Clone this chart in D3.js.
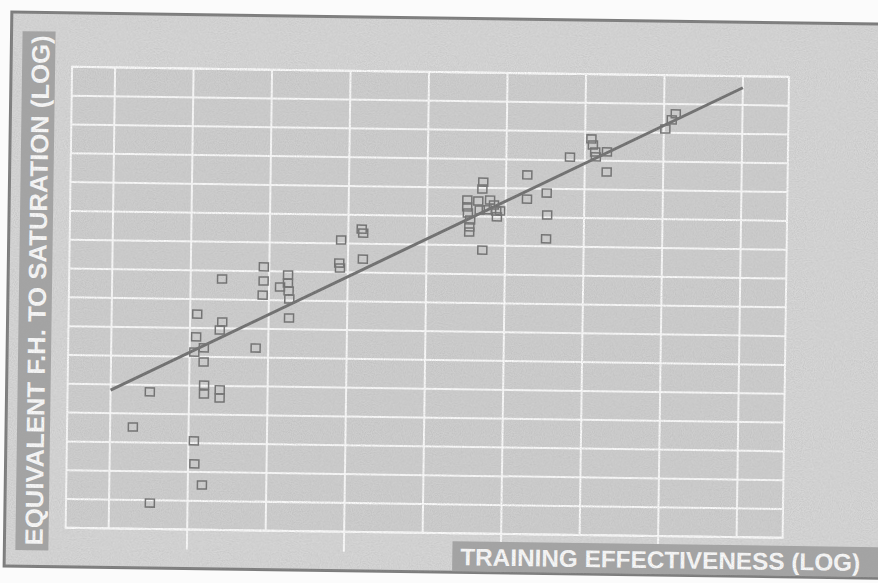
<!DOCTYPE html>
<html>
<head>
<meta charset="utf-8">
<script src="https://cdn.jsdelivr.net/npm/d3@7"></script>
<style>
  html, body { margin: 0; padding: 0; background: #fbfbfb; }
</style>
</head>
<body>
<div id="canvas"></div>
<script>
"use strict";

/* Data (x in grid columns, y in grid rows) */
let pointX = [
  0.50, 0.29, 0.52, 1.07, 1.08, 1.18, 1.09, 1.08, 1.06, 1.18, 1.18, 1.19, 1.19,
  1.39, 1.39, 1.40, 1.41, 1.38, 1.84, 1.93, 1.93, 1.92, 2.14, 2.24, 2.24, 2.25,
  2.26, 2.26, 2.91, 2.89, 2.90, 3.17, 3.19, 3.19,
  4.71, 4.70, 4.51, 4.51, 4.52, 4.55, 4.54, 4.54, 4.65, 4.67, 4.80, 4.85, 4.88,
  4.89, 4.93, 4.76, 4.71,
  5.27, 5.27, 5.52, 5.53, 5.52, 5.81, 6.08, 6.10, 6.13, 6.14, 6.28, 6.28,
  7.15, 7.10, 7.02
];
let pointY = [
  4.76, 3.53, 0.90, 3.08, 2.28, 1.55, 7.48, 6.69, 6.16, 6.31, 5.82, 5.02, 4.71,
  4.86, 4.58, 8.71, 7.22, 6.94, 6.33, 9.15, 8.66, 8.17, 8.46, 8.88, 8.60, 8.33,
  8.05, 7.39, 10.12, 9.32, 9.15, 10.51, 10.37, 9.47,
  12.20, 11.96, 11.57, 11.33, 11.12, 10.88, 10.64, 10.46, 11.54, 11.23, 11.58, 11.41, 11.20,
  11.00, 11.21, 11.24, 9.84,
  12.47, 11.63, 11.85, 11.09, 10.26, 13.11, 13.75, 13.54, 13.30, 13.13, 13.31, 12.61,
  14.66, 14.45, 14.13
];

/* Fitted line */
let fitX = [0, 8];
let fitY = [4.8, 15.6];

/* Grid ticks */
let xTicks = [0, 1, 2, 3, 4, 5, 6, 7, 8];
let yTicks = [0, 1, 2, 3, 4, 5, 6, 7, 8, 9, 10, 11, 12, 13, 14, 15, 16];

let xLabel = "TRAINING EFFECTIVENESS (LOG)";
let yLabel = "EQUIVALENT F.H. TO SATURATION (LOG)";

/* SVG setup */
let svgWidth = 878;
let svgHeight = 583;

let svg = d3.select("#canvas")
  .append("svg")
  .attr("width", svgWidth)
  .attr("height", svgHeight)
  .style("display", "block");

/* grain filter to mimic the printed halftone */
let defs = svg.append("defs");
let grain = defs.append("filter").attr("id", "grain")
  .attr("x", 0).attr("y", 0).attr("width", "100%").attr("height", "100%");
grain.append("feTurbulence")
  .attr("type", "fractalNoise")
  .attr("baseFrequency", 0.9)
  .attr("numOctaves", 2)
  .attr("seed", 3);
grain.append("feColorMatrix")
  .attr("type", "matrix")
  .attr("values", "0 0 0 0 0.35  0 0 0 0 0.35  0 0 0 0 0.35  0 0 0 -1.1 0.75");

/* the scan is tilted a little, so everything sits in a rotated group */
let page = svg.append("g")
  .attr("transform", "rotate(0.8, 439, 291)");

/* Scales */
let gridLeft = 69, gridRight = 786, gridTop = 72, gridBottom = 533;
let xScale = d3.scaleLinear().domain([-0.548, 8.586]).range([gridLeft, gridRight]);
let yScale = d3.scaleLinear().domain([0, 16]).range([gridBottom, gridTop]);

/* Panel */
page.append("rect")
  .attr("x", 8)
  .attr("y", 18)
  .attr("width", 900)
  .attr("height", 554)
  .attr("fill", "#d6d6d6")
  .attr("stroke", "#7c7c7c")
  .attr("stroke-width", 3);

/* Plot area */
page.append("rect")
  .attr("x", gridLeft)
  .attr("y", gridTop)
  .attr("width", gridRight - gridLeft)
  .attr("height", gridBottom - gridTop)
  .attr("fill", "#cecece");

/* Horizontal grid lines */
page.selectAll(".hgrid")
  .data(yTicks)
  .enter()
  .append("line")
  .attr("class", "hgrid")
  .attr("x1", gridLeft)
  .attr("x2", gridRight)
  .attr("y1", d => yScale(d))
  .attr("y2", d => yScale(d))
  .attr("stroke", "#fbfbfb")
  .attr("stroke-width", 2);

/* Vertical grid lines (odd ones run a bit below the plot) */
page.selectAll(".vgrid")
  .data(xTicks)
  .enter()
  .append("line")
  .attr("class", "vgrid")
  .attr("x1", d => xScale(d))
  .attr("x2", d => xScale(d))
  .attr("y1", gridTop)
  .attr("y2", d => d % 2 === 1 ? gridBottom + 20 : gridBottom)
  .attr("stroke", "#fbfbfb")
  .attr("stroke-width", 2);

/* Plot edges */
page.append("rect")
  .attr("x", gridLeft)
  .attr("y", gridTop)
  .attr("width", gridRight - gridLeft)
  .attr("height", gridBottom - gridTop)
  .attr("fill", "none")
  .attr("stroke", "#fbfbfb")
  .attr("stroke-width", 2);

/* Fitted line */
let fitData = fitX.map((v, i) => [v, fitY[i]]);
page.append("path")
  .datum(fitData)
  .attr("d", d3.line().x(d => xScale(d[0])).y(d => yScale(d[1])))
  .attr("fill", "none")
  .attr("stroke", "#6e6e6e")
  .attr("stroke-width", 3);

/* Points: small open squares */
let pts = pointX.map((v, i) => ({ x: v, y: pointY[i] }));
page.selectAll(".pt")
  .data(pts)
  .enter()
  .append("rect")
  .attr("class", "pt")
  .attr("x", d => xScale(d.x) - 4.5)
  .attr("y", d => yScale(d.y) - 4)
  .attr("width", 9)
  .attr("height", 8)
  .attr("fill", "none")
  .attr("stroke", "#707070")
  .attr("stroke-width", 1.5);

/* Y label band */
page.append("rect")
  .attr("x", 19)
  .attr("y", 37)
  .attr("width", 33)
  .attr("height", 519)
  .attr("fill", "#a4a4a4");

page.append("text")
  .attr("transform", "translate(46, 296) rotate(-90)")
  .attr("text-anchor", "middle")
  .attr("textLength", 510)
  .attr("lengthAdjust", "spacingAndGlyphs")
  .style("font-family", "'Liberation Sans', Arial, sans-serif")
  .style("font-weight", "bold")
  .style("font-size", "25px")
  .attr("fill", "#fbfbfb")
  .text(yLabel);

/* X label band */
page.append("rect")
  .attr("x", 456)
  .attr("y", 541)
  .attr("width", 440)
  .attr("height", 30)
  .attr("fill", "#a4a4a4");

page.append("text")
  .attr("x", 664)
  .attr("y", 565)
  .attr("text-anchor", "middle")
  .attr("textLength", 400)
  .attr("lengthAdjust", "spacingAndGlyphs")
  .style("font-family", "'Liberation Sans', Arial, sans-serif")
  .style("font-weight", "bold")
  .style("font-size", "24px")
  .attr("fill", "#fbfbfb")
  .text(xLabel);

/* Grain over the panel */
page.append("rect")
  .attr("x", 8)
  .attr("y", 18)
  .attr("width", 900)
  .attr("height", 554)
  .attr("filter", "url(#grain)")
  .attr("opacity", 0.5)
  .style("pointer-events", "none");
</script>
</body>
</html>
